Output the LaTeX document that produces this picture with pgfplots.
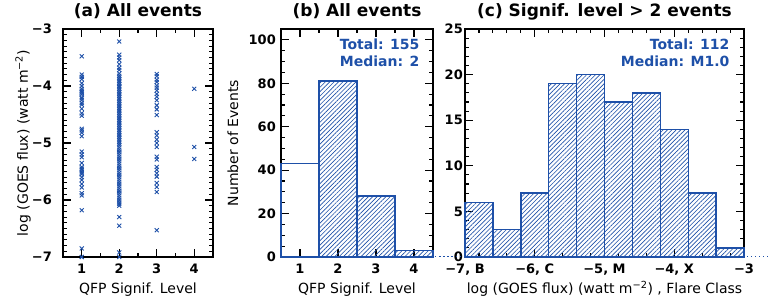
\documentclass[border=0pt]{standalone}
\usepackage{pgfplots}
\pgfplotsset{compat=1.18}
\usepackage{fontspec}
\setmainfont{DejaVu Sans}
\usetikzlibrary{patterns.meta}
\definecolor{qblue}{RGB}{30,80,168}
\pgfplotsset{
  panel/.style={
    anchor=south west, scale only axis, height=228pt,
    axis line style={line width=1.3pt},
    tick style={black, line width=1.1pt},
    major tick length=8pt, minor tick length=4pt,
    tick align=inside,
    xtick pos=both, ytick pos=both,
    xticklabel pos=lower, yticklabel pos=left,
    title style={at={(0.5,1)}, anchor=base, yshift=6pt, font=\bfseries\fontsize{17}{20}\selectfont},
    xticklabel style={anchor=base, inner sep=0pt, yshift=-17pt, font=\bfseries\fontsize{13}{15}\selectfont},
    yticklabel style={anchor=east, inner sep=0pt, font=\bfseries\fontsize{13}{15}\selectfont},
    xlabel style={at={(0.5,0)}, anchor=base, yshift=-37pt, font=\fontsize{14}{16}\selectfont},
    ylabel style={at={(rel axis cs:0,0.5)}, anchor=center, font=\fontsize{14}{16}\selectfont},
  },
  hist/.style={ybar interval, draw=qblue, line width=1.4pt},
  hatch/.style={pattern={Lines[angle=45,distance=3.1pt,line width=0.65pt]}, pattern color=qblue},
  baseline/.style={qblue, line width=1pt, dash pattern=on 1pt off 3pt},
}
\begin{document}
\begin{tikzpicture}[x=1pt,y=1pt]
\useasboundingbox (0,0) rectangle (771,302);
% ---------------- (a)
\begin{axis}[panel, at={(63pt,45pt)}, width=150pt,
  xmin=0.5, xmax=4.5, ymin=-7, ymax=-3,
  xtick={1,2,3,4}, xticklabels={1,2,3,4}, minor x tick num=1,
  ytick={-7,-6,-5,-4,-3}, yticklabels={−7,−6,−5,−4,−3}, minor y tick num=9,
  yticklabel style={xshift=-11pt},
  ylabel style={yshift=40pt},
  title={(a) All events},
  xlabel={QFP Signif. Level},
  ylabel={log (GOES flux) (watt m\textsuperscript{−2})},
]
\addplot[only marks, mark=x, mark size=2.8pt, qblue, line width=0.9pt] table[row sep=\\] {
x y\\
1 -3.48\\ 1 -3.80\\ 1 -3.84\\ 1 -3.88\\ 1 -3.95\\ 1 -4.00\\ 1 -4.05\\ 1 -4.08\\ 1 -4.12\\ 1 -4.15\\
1 -4.20\\ 1 -4.25\\ 1 -4.30\\ 1 -4.33\\ 1 -4.40\\ 1 -4.48\\ 1 -4.52\\ 1 -4.75\\ 1 -4.78\\ 1 -4.82\\
1 -4.88\\ 1 -5.15\\ 1 -5.20\\ 1 -5.25\\ 1 -5.35\\ 1 -5.42\\ 1 -5.47\\ 1 -5.50\\ 1 -5.55\\ 1 -5.60\\
1 -5.65\\ 1 -5.72\\ 1 -5.78\\ 1 -5.88\\ 1 -5.92\\ 1 -6.18\\ 1 -6.85\\ 1 -7.00\\ 1 -7.00\\ 1 -4.10\\
1 -4.22\\ 1 -5.45\\ 1 -5.52\\
2 -3.22\\ 2 -3.45\\ 2 -3.50\\ 2 -3.55\\ 2 -3.62\\ 2 -3.68\\ 2 -3.72\\ 2 -3.78\\
2 -3.82\\ 2 -3.85\\ 2 -3.88\\ 2 -3.91\\ 2 -3.94\\ 2 -3.97\\ 2 -4.00\\ 2 -4.02\\ 2 -4.05\\ 2 -4.08\\
2 -4.11\\ 2 -4.14\\ 2 -4.17\\ 2 -4.20\\ 2 -4.23\\ 2 -4.26\\ 2 -4.29\\ 2 -4.32\\ 2 -4.35\\ 2 -4.38\\
2 -4.41\\ 2 -4.44\\ 2 -4.47\\ 2 -4.50\\ 2 -4.53\\ 2 -4.56\\ 2 -4.59\\ 2 -4.62\\ 2 -4.65\\ 2 -4.68\\
2 -4.71\\ 2 -4.74\\ 2 -4.77\\ 2 -4.80\\ 2 -4.83\\ 2 -4.86\\ 2 -4.89\\ 2 -4.92\\ 2 -4.95\\ 2 -4.98\\
2 -5.01\\ 2 -5.04\\ 2 -5.08\\ 2 -5.12\\ 2 -5.16\\ 2 -5.20\\ 2 -5.24\\ 2 -5.28\\ 2 -5.32\\ 2 -5.36\\
2 -5.40\\ 2 -5.44\\ 2 -5.48\\ 2 -5.52\\ 2 -5.56\\ 2 -5.60\\ 2 -5.64\\ 2 -5.68\\ 2 -5.72\\ 2 -5.76\\
2 -5.80\\ 2 -5.84\\ 2 -5.88\\ 2 -5.92\\ 2 -5.96\\ 2 -6.00\\ 2 -6.04\\ 2 -6.07\\ 2 -6.10\\
2 -6.30\\ 2 -6.45\\ 2 -6.92\\ 2 -7.00\\
3 -3.79\\ 3 -3.83\\ 3 -3.89\\ 3 -3.93\\ 3 -3.99\\ 3 -4.03\\ 3 -4.08\\ 3 -4.14\\ 3 -4.19\\ 3 -4.25\\
3 -4.34\\ 3 -4.41\\ 3 -4.51\\ 3 -4.81\\ 3 -4.87\\ 3 -4.94\\ 3 -5.00\\ 3 -5.07\\ 3 -5.24\\ 3 -5.29\\
3 -5.42\\ 3 -5.47\\ 3 -5.53\\ 3 -5.59\\ 3 -5.70\\ 3 -5.77\\ 3 -5.86\\ 3 -6.53\\
4 -4.05\\ 4 -5.07\\ 4 -5.28\\
};
\end{axis}
% ---------------- (b)
\begin{axis}[panel, at={(281pt,45pt)}, width=152pt, clip=false,
  xmin=0.5, xmax=4.5, ymin=0, ymax=105,
  xtick={1,2,3,4}, xticklabels={1,2,3,4}, minor x tick num=1,
  ytick={0,20,40,60,80,100}, yticklabels={0,20,40,60,80,100}, minor y tick num=3,
  yticklabel style={xshift=-5pt},
  ylabel style={yshift=48pt},
  title={(b) All events},
  xlabel={QFP Signif. Level},
  ylabel={Number of Events},
]
\addplot[hist] coordinates {(0.5,43) (1.5,43)};
\addplot[hist, hatch] coordinates {(1.5,81) (2.5,28) (3.5,3) (4.5,3)};
\addplot[baseline] coordinates {(4.55,0) (5.12,0)};
\node[anchor=base east, text=qblue, font=\bfseries\fontsize{14}{16}\selectfont, xshift=-10pt, yshift=-21pt] at (rel axis cs:1,1) {Total: 155};
\node[anchor=base east, text=qblue, font=\bfseries\fontsize{14}{16}\selectfont, xshift=-10pt, yshift=-38pt] at (rel axis cs:1,1) {Median: 2};
\end{axis}
% ---------------- (c)
\begin{axis}[panel, at={(465pt,45pt)}, width=279pt, clip=false,
  xmin=-7, xmax=-3, ymin=0, ymax=25,
  xtick={-7,-6,-5,-4,-3}, xticklabels={{−7, B},{−6, C},{−5, M},{−4, X},{−3}}, minor x tick num=4,
  ytick={0,5,10,15,20,25}, yticklabels={0,5,10,15,20,25}, minor y tick num=4,
  yticklabel style={xshift=-2pt},
  title={(c) Signif. level > 2 events},
  xlabel={log (GOES flux) (watt m\textsuperscript{−2}) , Flare Class},
]
\addplot[hist, hatch] coordinates {(-7,6) (-6.6,3) (-6.2,7) (-5.8,19) (-5.4,20) (-5.0,17) (-4.6,18) (-4.2,14) (-3.8,7) (-3.4,1) (-3.0,1)};
\addplot[baseline] coordinates {(-7.36,0) (-7.05,0)};
\addplot[baseline] coordinates {(-2.95,0) (-2.6,0)};
\node[anchor=base east, text=qblue, font=\bfseries\fontsize{14}{16}\selectfont, xshift=-11pt, yshift=-21pt] at (rel axis cs:1,1) {Total: 112};
\node[anchor=base east, text=qblue, font=\bfseries\fontsize{14}{16}\selectfont, xshift=-11pt, yshift=-38pt] at (rel axis cs:1,1) {Median: M1.0};
\end{axis}
\end{tikzpicture}
\end{document}
